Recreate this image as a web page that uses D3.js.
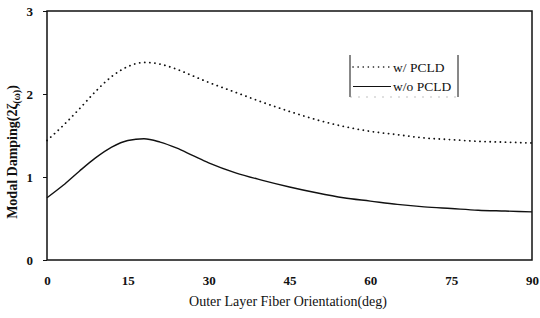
<!DOCTYPE html>
<html>
<head>
<meta charset="utf-8">
<script src="https://cdn.jsdelivr.net/npm/d3@7"></script>
<style>
  body { margin: 0; background: #fff; }
  text { font-family: "Liberation Serif", "DejaVu Serif", serif; fill: #111; }
</style>
</head>
<body>
<svg id="chart" width="540" height="318"></svg>
<script>
// fiber orientation (deg)
var angles = [0, 3, 6, 9, 12, 15, 18, 21, 24, 27, 30, 35, 40, 45, 50, 55, 60, 65, 70, 75, 80, 85, 90];
// modal damping with PCLD
var withPcld = [1.44, 1.62, 1.82, 2.03, 2.21, 2.33, 2.38, 2.36, 2.30, 2.22, 2.14, 2.02, 1.90, 1.79, 1.69, 1.61, 1.55, 1.51, 1.47, 1.45, 1.43, 1.42, 1.41];
// modal damping without PCLD
var withoutPcld = [0.75, 0.90, 1.07, 1.23, 1.36, 1.44, 1.46, 1.42, 1.35, 1.26, 1.17, 1.05, 0.96, 0.88, 0.81, 0.75, 0.71, 0.67, 0.64, 0.62, 0.60, 0.59, 0.58];
var xTicks = [0, 15, 30, 45, 60, 75, 90];
var yTicks = [0, 1, 2, 3];
var legendLabels = ['w/ PCLD', 'w/o PCLD'];

var serif = '"Liberation Serif", "DejaVu Serif", serif';
var svg = d3.select('#chart');
var plotLeft = 47, plotRight = 532, plotTop = 11, plotBottom = 260;

var x = d3.scaleLinear().domain([0, 90]).range([plotLeft, plotRight]);
var y = d3.scaleLinear().domain([0, 3]).range([plotBottom, plotTop]);

// frame
svg.append('rect')
  .attr('x', plotLeft).attr('y', plotTop)
  .attr('width', plotRight - plotLeft).attr('height', plotBottom - plotTop)
  .attr('fill', 'none').attr('stroke', '#111').attr('stroke-width', 1.5);

var xAxis = svg.append('g')
  .attr('transform', 'translate(0,' + plotBottom + ')')
  .call(d3.axisBottom(x).tickValues(xTicks).tickSize(0).tickPadding(16));
xAxis.select('.domain').remove();
xAxis.selectAll('text')
  .style('font-family', serif)
  .style('font-size', '13px').style('font-weight', 'bold').attr('fill', '#111');

var yAxis = svg.append('g')
  .attr('transform', 'translate(' + plotLeft + ',0)')
  .call(d3.axisLeft(y).tickValues(yTicks).tickFormat(d3.format('d')).tickSize(4).tickPadding(10));
yAxis.select('.domain').remove();
yAxis.selectAll('line').attr('stroke', '#111');
yAxis.selectAll('text')
  .style('font-family', serif)
  .style('font-size', '13px').style('font-weight', 'bold').attr('fill', '#111');

// axis titles
svg.append('text')
  .attr('x', 288).attr('y', 306)
  .attr('text-anchor', 'middle')
  .style('font-family', serif)
  .style('font-size', '14px')
  .text('Outer Layer Fiber Orientation(deg)');

var yTitle = svg.append('text')
  .attr('transform', 'translate(17,152) rotate(-90)')
  .attr('text-anchor', 'middle')
  .style('font-family', serif)
  .style('font-weight', 'bold')
  .style('font-size', '14px');
yTitle.append('tspan').text('Modal Damping(2ζ');
yTitle.append('tspan').attr('dy', 3).style('font-size', '10px').text('(ω)');
yTitle.append('tspan').attr('dy', -3).text(')');

// curves
var line = d3.line()
  .x(function(d, i) { return x(angles[i]); })
  .y(function(d) { return y(d); })
  .curve(d3.curveMonotoneX);

svg.append('path')
  .attr('d', line(withPcld))
  .attr('fill', 'none').attr('stroke', '#111')
  .attr('stroke-width', 1.8).attr('stroke-linecap', 'round')
  .attr('stroke-dasharray', '0.1,5');

svg.append('path')
  .attr('d', line(withoutPcld))
  .attr('fill', 'none').attr('stroke', '#111').attr('stroke-width', 1.4);

// legend
var lg = svg.append('g');
lg.append('line').attr('x1', 350).attr('x2', 350).attr('y1', 55).attr('y2', 97)
  .attr('stroke', '#111').attr('stroke-width', 1);
lg.append('line').attr('x1', 458).attr('x2', 458).attr('y1', 55).attr('y2', 97)
  .attr('stroke', '#111').attr('stroke-width', 1);
lg.append('line').attr('x1', 350).attr('x2', 458).attr('y1', 97).attr('y2', 97)
  .attr('stroke', '#999').attr('stroke-width', 0.6).attr('stroke-dasharray', '2,6');

var rows = lg.selectAll('g.row').data(legendLabels).enter().append('g')
  .attr('transform', function(d, i) { return 'translate(0,' + (67 + i * 19.5) + ')'; });
rows.append('line')
  .attr('x1', 353).attr('x2', 391).attr('y1', 0).attr('y2', 0)
  .attr('stroke', '#111')
  .attr('stroke-width', function(d, i) { return i === 0 ? 1.6 : 1.2; })
  .attr('stroke-linecap', function(d, i) { return i === 0 ? 'round' : 'butt'; })
  .attr('stroke-dasharray', function(d, i) { return i === 0 ? '0.1,5' : null; });
rows.append('text')
  .attr('x', 393).attr('y', 4.5)
  .style('font-family', serif)
  .style('font-size', '13.5px')
  .text(function(d) { return d; });
</script>
</body>
</html>
